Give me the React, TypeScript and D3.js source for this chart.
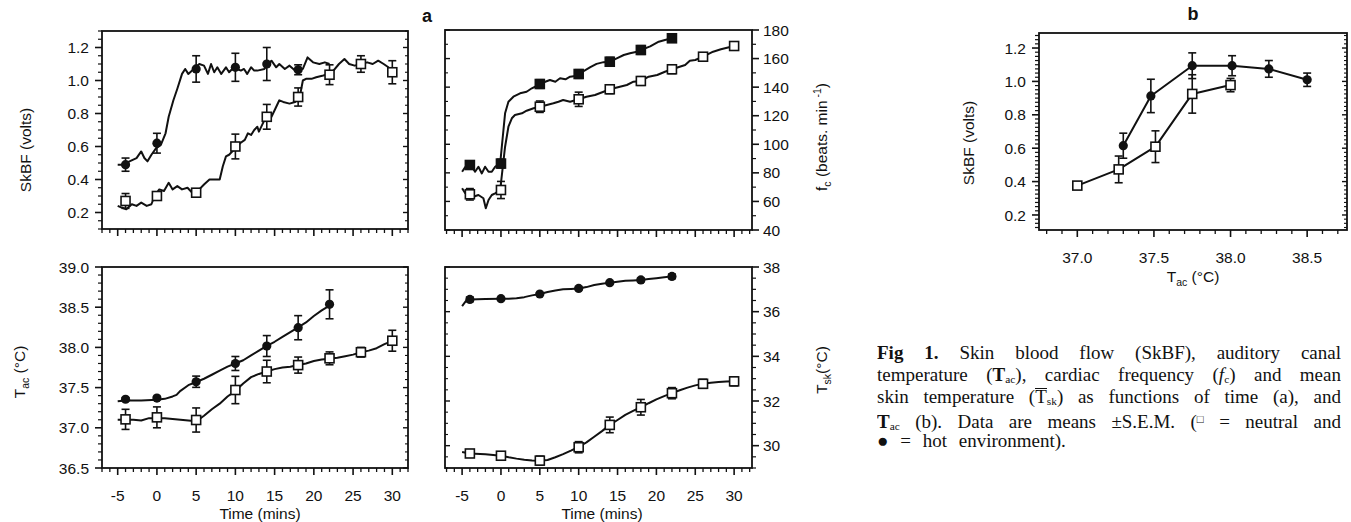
import React from "react";
import * as d3 from "d3";

type Pt = [number, number];

// ---- panel a, top left: SkBF (volts) vs time ----
const skbfHotTrace: Pt[] = [
  [-5, 0.49], [-4.5, 0.49], [-4, 0.49], [-3.5, 0.51], [-2.6, 0.53], [-2.0, 0.57], [-1.6, 0.53], [-1.2, 0.51],
  [-0.7, 0.55], [-0.1, 0.59], [0.5, 0.61], [1.1, 0.68], [1.5, 0.78], [2.1, 0.88], [2.6, 0.95], [3.2, 1.04],
  [3.6, 1.07], [4.0, 1.04], [4.7, 1.07], [5.4, 1.10], [6.0, 1.09], [6.5, 1.04], [6.9, 1.10], [7.3, 1.05],
  [7.7, 1.08], [8.2, 1.04], [8.8, 1.08], [9.2, 1.05], [9.8, 1.08], [10.7, 1.06], [11.1, 1.07], [11.5, 1.04],
  [12.0, 1.08], [12.4, 1.06], [12.8, 1.06], [13.7, 1.07], [14.2, 1.10], [14.6, 1.12], [15.2, 1.08], [15.6, 1.10],
  [16.3, 1.07], [16.9, 1.09], [17.6, 1.06], [18.1, 1.06], [18.6, 1.07], [19.2, 1.14], [19.9, 1.11], [20.7, 1.10],
  [21.4, 1.11], [22.0, 1.10],
];
const skbfNeutralTrace: Pt[] = [
  [-5, 0.24], [-4.5, 0.23], [-3.9, 0.22], [-3.2, 0.25], [-2.6, 0.24], [-2.0, 0.26], [-1.3, 0.24], [-0.7, 0.25],
  [-0.3, 0.30], [0.3, 0.34], [0.9, 0.33], [1.5, 0.38], [2.0, 0.34], [2.6, 0.36], [3.2, 0.34], [3.9, 0.35],
  [4.5, 0.32], [5.0, 0.32], [5.4, 0.34], [6.0, 0.37], [6.7, 0.40], [7.3, 0.40], [8.0, 0.40], [8.4, 0.48],
  [8.8, 0.54], [9.2, 0.55], [9.8, 0.58], [10.6, 0.62], [11.2, 0.64], [11.6, 0.68], [12.0, 0.67], [12.4, 0.70],
  [12.8, 0.72], [13.0, 0.69], [13.7, 0.76], [14.3, 0.78], [14.6, 0.78], [15.0, 0.82], [15.6, 0.88], [16.1, 0.87],
  [16.9, 0.86], [17.6, 0.87], [18.2, 0.90], [18.6, 1.00], [19.0, 1.01], [19.7, 1.01], [20.3, 1.02], [21.2, 1.03],
  [22.0, 1.04], [22.5, 1.06], [23.2, 1.10], [23.9, 1.13], [24.5, 1.10], [25.2, 1.09], [26.0, 1.10], [26.8, 1.11],
  [27.5, 1.10], [28.2, 1.12], [28.9, 1.10], [29.5, 1.08], [30.0, 1.05], [30.5, 1.07],
];
const skbfHotMean = [0.49, 0.62, 1.07, 1.08, 1.10, 1.065];
const skbfHotSem = [0.04, 0.06, 0.08, 0.085, 0.10, 0.03];
const skbfNeutralMean = [0.27, 0.30, 0.32, 0.60, 0.78, 0.90, 1.035, 1.10, 1.05];
const skbfNeutralSem = [0.045, 0.02, 0.02, 0.075, 0.075, 0.055, 0.06, 0.05, 0.07];

// ---- panel a, top right: fc (beats/min) vs time ----
const fcHotTrace: Pt[] = [
  [-5, 80.8], [-4.6, 84], [-4.1, 85.5], [-3.75, 84.3], [-3.33, 80.8], [-2.9, 84.3], [-2.46, 79.6], [-2.04, 84.3],
  [-1.6, 80.8], [-1.18, 80.8], [-0.75, 84.3], [-0.1, 86.7], [0.32, 110], [0.53, 121.7], [0.96, 129.8], [1.6, 133.3],
  [2.46, 135.7], [3.3, 136.8], [3.97, 139.2], [4.6, 140.8], [5.0, 142.2], [5.7, 143.8], [6.3, 145], [7.0, 143.8],
  [7.6, 146.2], [8.3, 145.5], [8.9, 147.3], [9.6, 147.8], [10.0, 149.2], [10.8, 151.7], [11.5, 154], [12.3, 156.3],
  [13.2, 157.5], [14.0, 157.8], [14.9, 160.2], [15.8, 162.5], [16.6, 163.7], [17.5, 164.8], [18.0, 166], [19.2, 168.5],
  [20.3, 171.8], [21.1, 173], [22, 174.2],
];
const fcNeutralTrace: Pt[] = [
  [-5, 69.2], [-4.6, 65.7], [-4, 65], [-3.55, 63.3], [-2.9, 64.5], [-2.26, 62.2], [-1.95, 55.2], [-1.6, 61],
  [-1.18, 64.5], [-0.75, 65.7], [-0.1, 68], [0.24, 84.3], [0.53, 98.3], [0.96, 112.3], [1.4, 118.2], [1.8, 120.5],
  [2.7, 121.7], [3.3, 123.5], [4.2, 125.2], [5.0, 126.3], [5.9, 127.5], [6.75, 128.7], [7.4, 129.8], [8.0, 131],
  [8.9, 129.8], [10.0, 131.5], [11.0, 133.3], [12.1, 134.5], [13.2, 136.8], [14.0, 138.5], [15.3, 140.3], [16.2, 141.5],
  [17.05, 143.8], [18, 144.3], [19, 147.3], [20.1, 148.5], [21.1, 150.8], [22, 152.5], [23.7, 155.5], [24.3, 158.5],
  [25, 159], [26, 161.3], [27.3, 164.8], [28.3, 166.5], [30, 168.8],
];
const fcHotMean = [85.5, 86.5, 142.2, 149.2, 157.8, 166, 174.2];
const fcHotSem = [2, 3, 3, 3, 3, 3, 2];
const fcNeutralMean = [65, 68, 126.3, 131.5, 138.5, 144.3, 152.5, 161.3, 168.8];
const fcNeutralSem = [4, 6, 4, 5, 3, 3, 3, 2, 2];

// ---- panel a, bottom left: Tac (°C) vs time ----
const tacHotTrace: Pt[] = [
  [-5, 37.33], [-4, 37.34], [-2, 37.34], [0, 37.35], [1, 37.36], [2, 37.39], [2.5, 37.41], [3, 37.46],
  [4, 37.53], [5, 37.57], [6, 37.61], [7, 37.66], [8, 37.71], [9, 37.76], [10, 37.80], [11, 37.84],
  [12, 37.90], [13, 37.96], [14, 38.02], [15, 38.07], [16, 38.13], [17, 38.19], [18, 38.25], [19, 38.31],
  [20, 38.39], [21, 38.46], [22, 38.52],
];
const tacNeutralTrace: Pt[] = [
  [-5, 37.10], [-4, 37.10], [-3, 37.10], [-2, 37.09], [-1, 37.12], [0, 37.12], [1, 37.12], [2, 37.11],
  [3, 37.10], [4, 37.09], [5, 37.08], [6, 37.15], [7, 37.23], [8, 37.30], [9, 37.39], [10, 37.46],
  [11, 37.55], [12, 37.63], [13, 37.67], [14, 37.70], [15, 37.73], [16, 37.75], [17, 37.76], [18, 37.78],
  [19, 37.80], [20, 37.83], [21, 37.85], [22, 37.86], [23, 37.87], [24, 37.89], [25, 37.91], [26, 37.94],
  [27, 37.96], [28, 37.99], [29, 38.04], [30, 38.08],
];
const tacHotMean = [37.355, 37.37, 37.573, 37.80, 38.017, 38.245, 38.536];
const tacHotSem = [0.02, 0.02, 0.07, 0.087, 0.13, 0.15, 0.18];
const tacNeutralMean = [37.105, 37.13, 37.097, 37.47, 37.70, 37.78, 37.864, 37.94, 38.083];
const tacNeutralSem = [0.125, 0.13, 0.15, 0.17, 0.14, 0.1, 0.08, 0.06, 0.13];

// ---- panel a, bottom right: Tsk (°C) vs time ----
const tskHotTrace: Pt[] = [
  [-5, 36.25], [-4.5, 36.48], [-4, 36.55], [-2, 36.57], [0, 36.58], [1, 36.58], [2, 36.60], [3, 36.65],
  [4, 36.73], [5, 36.79], [6, 36.88], [7, 36.95], [8, 37.0], [9, 37.02], [10, 37.04], [11, 37.1],
  [12, 37.19], [13, 37.25], [14, 37.30], [15, 37.34], [16, 37.38], [17, 37.40], [18, 37.42], [19, 37.46],
  [20, 37.50], [21, 37.54], [22, 37.58],
];
const tskNeutralTrace: Pt[] = [
  [-5, 29.72], [-4, 29.65], [-2, 29.62], [0, 29.55], [1, 29.48], [2, 29.42], [3, 29.37], [4, 29.34],
  [5, 29.33], [6, 29.36], [7, 29.48], [8, 29.62], [9, 29.78], [10, 29.95], [11, 30.15], [12, 30.4],
  [13, 30.65], [14, 30.93], [15, 31.15], [16, 31.38], [17, 31.56], [18, 31.72], [19, 31.9], [20, 32.07],
  [21, 32.22], [22, 32.35], [23, 32.48], [24, 32.6], [25, 32.7], [26, 32.77], [27, 32.82], [28, 32.85],
  [29, 32.87], [30, 32.88],
];
const tskHotMean = [36.55, 36.58, 36.79, 37.04, 37.30, 37.42, 37.58];
const tskHotSem = [0.1, 0.05, 0.05, 0.05, 0.05, 0.08, 0.1];
const tskNeutralMean = [29.65, 29.55, 29.33, 29.93, 30.93, 31.72, 32.35, 32.77, 32.88];
const tskNeutralSem = [0.12, 0.12, 0.2, 0.25, 0.35, 0.35, 0.25, 0.2, 0.2];

// ---- panel b: SkBF vs Tac ----
const bTacNeutral = [37.0, 37.27, 37.51, 37.75, 38.0];
const bSkbfNeutral = [0.376, 0.473, 0.609, 0.925, 0.978];
const bSemNeutral = [0.02, 0.08, 0.095, 0.115, 0.04];
const bTacHot = [37.3, 37.48, 37.75, 38.01, 38.25, 38.5];
const bSkbfHot = [0.615, 0.913, 1.094, 1.094, 1.075, 1.01];
const bSemHot = [0.075, 0.1, 0.077, 0.06, 0.05, 0.04];

// time points and tick labels
const hotTimes = [-4, 0, 5, 10, 14, 18, 22];
const neutralTimes = [-4, 0, 5, 10, 14, 18, 22, 26, 30];
const skbfHotTimes = [-4, 0, 5, 10, 14, 18];
const timeTicks = [-5, 0, 5, 10, 15, 20, 25, 30];
const skbfTicks = [0.2, 0.4, 0.6, 0.8, 1.0, 1.2];
const fcTicks = [40, 60, 80, 100, 120, 140, 160, 180];
const tacTicks = [36.5, 37.0, 37.5, 38.0, 38.5, 39.0];
const tskTicks = [30, 32, 34, 36, 38];
const bTacTicks = [37.0, 37.5, 38.0, 38.5];

const SANS = "'Liberation Sans', Arial, Helvetica, sans-serif";
const SERIF = "'Liberation Serif', 'Times New Roman', serif";
const INK = "#111";
const FS = 15.5;

type Group = { trace: Pt[]; x: number[]; y: number[]; e: number[]; mark: "open" | "dot" | "block" };

type PanelProps = {
  left: number; right: number; top: number; bottom: number;
  xDomain: [number, number]; yDomain: [number, number];
  xTicks: number[]; xMinor: number; xLabels: boolean; xFmt: (v: number) => string;
  yTicks: number[]; yMinor: number; yFmt: (v: number) => string; ySide: "left" | "right";
  groups: Group[];
};

function Panel(p: PanelProps) {
  const x = d3.scaleLinear().domain(p.xDomain).range([p.left, p.right]);
  const y = d3.scaleLinear().domain(p.yDomain).range([p.bottom, p.top]);
  const line = d3.line<Pt>().x((d) => x(d[0])).y((d) => y(d[1]));
  const eps = 1e-6;
  const xMinor = d3.range(Math.ceil(p.xDomain[0] / p.xMinor) * p.xMinor, p.xDomain[1] + eps, p.xMinor)
    .filter((v) => !p.xTicks.some((t) => Math.abs(t - v) < eps));
  const yMinor = d3.range(Math.ceil(p.yDomain[0] / p.yMinor - eps) * p.yMinor, p.yDomain[1] + eps, p.yMinor)
    .filter((v) => !p.yTicks.some((t) => Math.abs(t - v) < eps));
  const ax = p.ySide === "left" ? p.left : p.right;
  const other = p.ySide === "left" ? p.right : p.left;
  const out = p.ySide === "left" ? -1 : 1;

  return (
    <g>
      <rect x={p.left} y={p.top} width={p.right - p.left} height={p.bottom - p.top}
        fill="none" stroke={INK} strokeWidth={1.8} />
      {/* x ticks */}
      {p.xTicks.map((t) => (
        <line key={"xt" + t} x1={x(t)} x2={x(t)} y1={p.bottom} y2={p.bottom + 7} stroke={INK} strokeWidth={1.6} />
      ))}
      {xMinor.map((t) => (
        <line key={"xm" + t} x1={x(t)} x2={x(t)} y1={p.bottom} y2={p.bottom + 4} stroke={INK} strokeWidth={1.3} />
      ))}
      {p.xLabels && p.xTicks.map((t) => (
        <text key={"xl" + t} x={x(t)} y={p.bottom + 33} textAnchor="middle" fontFamily={SANS} fontSize={FS} fill={INK}>
          {p.xFmt(t)}
        </text>
      ))}
      {/* y ticks, outward on the labelled side, inward on the other */}
      {p.yTicks.map((t) => (
        <g key={"yt" + t}>
          <line x1={ax} x2={ax + out * 7} y1={y(t)} y2={y(t)} stroke={INK} strokeWidth={1.6} />
          <line x1={other} x2={other + out * 5} y1={y(t)} y2={y(t)} stroke={INK} strokeWidth={1.4} />
        </g>
      ))}
      {yMinor.map((t) => (
        <g key={"ym" + t}>
          <line x1={ax} x2={ax + out * 4} y1={y(t)} y2={y(t)} stroke={INK} strokeWidth={1.2} />
          <line x1={other} x2={other + out * 3} y1={y(t)} y2={y(t)} stroke={INK} strokeWidth={1.1} />
        </g>
      ))}
      {p.yTicks.map((t) => (
        <text key={"yl" + t} x={ax + out * (p.ySide === "left" ? 13 : 11)} y={y(t)} dy="0.36em"
          textAnchor={p.ySide === "left" ? "end" : "start"} fontFamily={SANS} fontSize={FS} fill={INK}>
          {p.yFmt(t)}
        </text>
      ))}
      {/* data */}
      {p.groups.map((g, gi) => (
        <path key={"tr" + gi} d={line(g.trace) ?? ""} fill="none" stroke={INK} strokeWidth={2} strokeLinejoin="round" />
      ))}
      {p.groups.map((g, gi) => (
        <g key={"eb" + gi}>
          {g.x.map((xv, i) => {
            const cx = x(xv), lo = y(g.y[i] - g.e[i]), hi = y(g.y[i] + g.e[i]);
            return (
              <g key={i} stroke={INK} strokeWidth={1.6}>
                <line x1={cx} x2={cx} y1={lo} y2={hi} />
                <line x1={cx - 4} x2={cx + 4} y1={lo} y2={lo} />
                <line x1={cx - 4} x2={cx + 4} y1={hi} y2={hi} />
              </g>
            );
          })}
        </g>
      ))}
      {p.groups.map((g, gi) => (
        <g key={"mk" + gi}>
          {g.x.map((xv, i) =>
            g.mark === "dot" ? (
              <circle key={i} cx={x(xv)} cy={y(g.y[i])} r={4.6} fill={INK} />
            ) : (
              <rect key={i} x={x(xv) - 4.5} y={y(g.y[i]) - 4.5} width={9} height={9}
                fill={g.mark === "block" ? INK : "#fff"} stroke={INK} strokeWidth={1.6} />
            )
          )}
        </g>
      ))}
    </g>
  );
}

const f1 = (v: number) => v.toFixed(1);
const f0 = (v: number) => String(v);
const pairs = (xs: number[], ys: number[]): Pt[] => xs.map((v, i) => [v, ys[i]]);

const subSt: React.CSSProperties = { fontSize: "0.6em", verticalAlign: "-0.2em", lineHeight: 0 };
const Sub = ({ children }: { children: React.ReactNode }) => <span style={subSt}>{children}</span>;
const barT: React.CSSProperties = { display: "inline-block", lineHeight: "15px", borderTop: "1.3px solid #111" };

// caption lines, word by word (spread to full width like the printed justified text)
const captionLines: React.ReactNode[][] = [
  [<b>Fig</b>, <b>1.</b>, "Skin", "blood", "flow", "(SkBF),", "auditory", "canal"],
  ["temperature", <>(<b>T</b><Sub>ac</Sub>),</>, "cardiac", "frequency", <>(<i>f</i><Sub>c</Sub>)</>, "and", "mean"],
  ["skin", "temperature", <>(<span style={barT}>T</span><Sub>sk</Sub>)</>, "as", "functions", "of", "time", "(a),", "and"],
  [<><b>T</b><Sub>ac</Sub></>, "(b).", "Data", "are", "means", "±S.E.M.", <>(<span style={{ fontSize: "0.6em", verticalAlign: "0.45em" }}>□</span></>, "=", "neutral", "and"],
];

export default function App() {
  const ylab = (x: number, y: number, content: React.ReactNode) => (
    <text transform={`translate(${x},${y}) rotate(-90)`} textAnchor="middle" fontFamily={SANS} fontSize={FS} fill={INK}>
      {content}
    </text>
  );
  return (
    <svg width={1351} height={522} style={{ position: "absolute", left: 0, top: 0, background: "#fff" }}>
      <text x={427} y={22} textAnchor="middle" fontFamily={SANS} fontWeight="bold" fontSize={18} fill={INK}>a</text>
      <text x={1193} y={20} textAnchor="middle" fontFamily={SANS} fontWeight="bold" fontSize={18} fill={INK}>b</text>

      <Panel left={102} right={408} top={31} bottom={229} xDomain={[-7, 32]} yDomain={[0.1, 1.3]}
        xTicks={timeTicks} xMinor={1} xLabels={false} xFmt={f0}
        yTicks={skbfTicks} yMinor={0.05} yFmt={f1} ySide="left"
        groups={[
          { trace: skbfNeutralTrace, x: neutralTimes, y: skbfNeutralMean, e: skbfNeutralSem, mark: "open" },
          { trace: skbfHotTrace, x: skbfHotTimes, y: skbfHotMean, e: skbfHotSem, mark: "dot" },
        ]} />
      <Panel left={445} right={752} top={30} bottom={230} xDomain={[-7.2, 32.3]} yDomain={[40, 180]}
        xTicks={timeTicks} xMinor={1} xLabels={false} xFmt={f0}
        yTicks={fcTicks} yMinor={10} yFmt={f0} ySide="right"
        groups={[
          { trace: fcNeutralTrace, x: neutralTimes, y: fcNeutralMean, e: fcNeutralSem, mark: "open" },
          { trace: fcHotTrace, x: hotTimes, y: fcHotMean, e: fcHotSem, mark: "block" },
        ]} />
      <Panel left={102} right={408} top={267} bottom={468} xDomain={[-7, 32]} yDomain={[36.5, 39.0]}
        xTicks={timeTicks} xMinor={1} xLabels={true} xFmt={f0}
        yTicks={tacTicks} yMinor={0.1} yFmt={f1} ySide="left"
        groups={[
          { trace: tacNeutralTrace, x: neutralTimes, y: tacNeutralMean, e: tacNeutralSem, mark: "open" },
          { trace: tacHotTrace, x: hotTimes, y: tacHotMean, e: tacHotSem, mark: "dot" },
        ]} />
      <Panel left={445} right={752} top={267} bottom={468} xDomain={[-7.2, 32.3]} yDomain={[29, 38]}
        xTicks={timeTicks} xMinor={1} xLabels={true} xFmt={f0}
        yTicks={tskTicks} yMinor={0.5} yFmt={f0} ySide="right"
        groups={[
          { trace: tskNeutralTrace, x: neutralTimes, y: tskNeutralMean, e: tskNeutralSem, mark: "open" },
          { trace: tskHotTrace, x: hotTimes, y: tskHotMean, e: tskHotSem, mark: "dot" },
        ]} />
      <Panel left={1039} right={1347} top={33} bottom={230} xDomain={[36.75, 38.76]} yDomain={[0.11, 1.29]}
        xTicks={bTacTicks} xMinor={0.1} xLabels={true} xFmt={f1}
        yTicks={skbfTicks} yMinor={0.025} yFmt={f1} ySide="left"
        groups={[
          { trace: pairs(bTacNeutral, bSkbfNeutral), x: bTacNeutral, y: bSkbfNeutral, e: bSemNeutral, mark: "open" },
          { trace: pairs(bTacHot, bSkbfHot), x: bTacHot, y: bSkbfHot, e: bSemHot, mark: "dot" },
        ]} />

      {/* axis titles */}
      {ylab(31, 150, "SkBF (volts)")}
      {ylab(25, 372, <>T<tspan dy={4} fontSize={10.5}>ac</tspan><tspan dy={-4}> (°C)</tspan></>)}
      {ylab(827, 137, <>f<tspan dy={4} fontSize={10.5}>c</tspan><tspan dy={-4}> (beats. min</tspan><tspan dy={-6} fontSize={10.5}> -1</tspan><tspan dy={6}>)</tspan></>)}
      {ylab(827, 370, <>T<tspan dy={4} fontSize={10.5}>sk</tspan><tspan dy={-4}>(°C)</tspan></>)}
      {ylab(974, 143, "SkBF (volts)")}
      <text x={260} y={519} textAnchor="middle" fontFamily={SANS} fontSize={FS} fill={INK}>Time (mins)</text>
      <text x={602} y={519} textAnchor="middle" fontFamily={SANS} fontSize={FS} fill={INK}>Time (mins)</text>
      <text x={1193} y={282} textAnchor="middle" fontFamily={SANS} fontSize={FS} fill={INK}>
        T<tspan dy={4} fontSize={10.5}>ac</tspan><tspan dy={-4}> (°C)</tspan>
      </text>

      {/* caption */}
      <foreignObject x={877} y={342} width={464} height={130}>
        <div style={{ fontFamily: SERIF, fontSize: 19, lineHeight: "22px", color: INK }}>
          {captionLines.map((words, i) => (
            <div key={i} style={{ display: "flex", justifyContent: "space-between", alignItems: "baseline", height: 22 }}>
              {words.map((w, j) => (
                <span key={j} style={{ whiteSpace: "nowrap", flex: "none" }}>{w}</span>
              ))}
            </div>
          ))}
          <div style={{ whiteSpace: "nowrap", height: 22, wordSpacing: "7px" }}>● = hot environment).</div>
        </div>
      </foreignObject>
    </svg>
  );
}
